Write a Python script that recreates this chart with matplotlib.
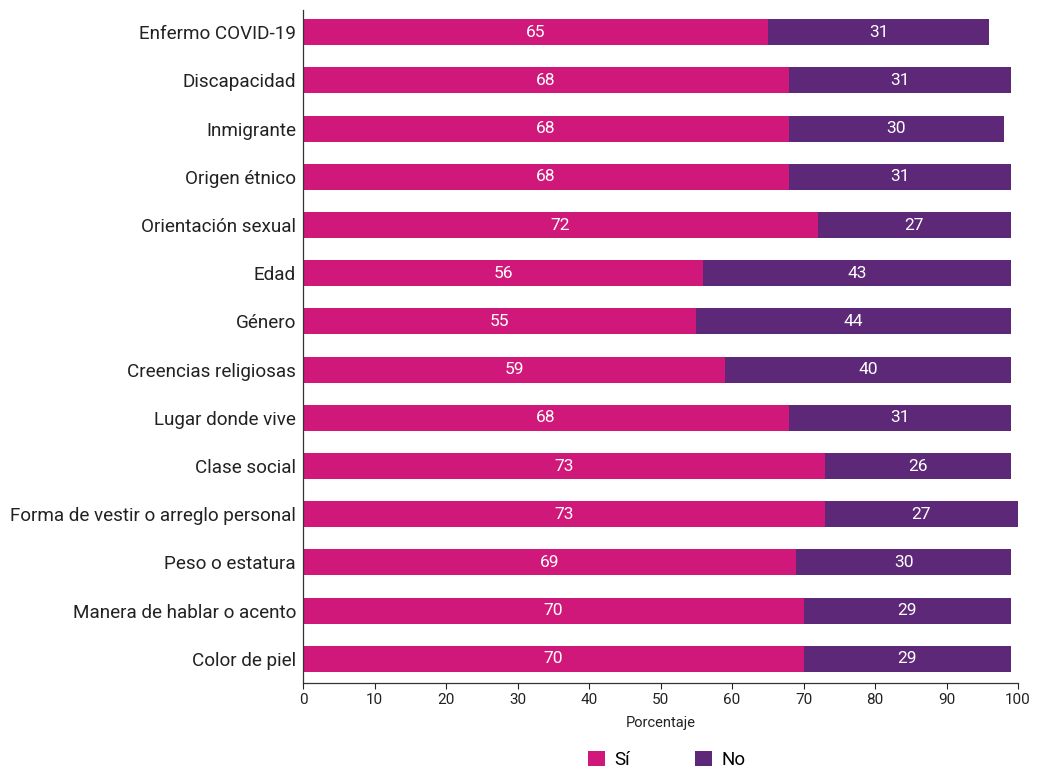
import matplotlib.pyplot as plt
import numpy as np

# datos
categorias = [
    "Enfermo COVID-19",
    "Discapacidad",
    "Inmigrante",
    "Origen étnico",
    "Orientación sexual",
    "Edad",
    "Género",
    "Creencias religiosas",
    "Lugar donde vive",
    "Clase social",
    "Forma de vestir o arreglo personal",
    "Peso o estatura",
    "Manera de hablar o acento",
    "Color de piel",
]
si = [65, 68, 68, 68, 72, 56, 55, 59, 68, 73, 73, 69, 70, 70]
no = [31, 31, 30, 31, 27, 43, 44, 40, 31, 26, 27, 30, 29, 29]

color_si = "#CF1879"
color_no = "#5C2877"

plt.rcParams["font.family"] = ["Roboto", "DejaVu Sans"]

fig = plt.figure(figsize=(10.37, 7.70), dpi=100)
ax = fig.add_axes([0.2922, 0.113, 0.6895, 0.874])

y = np.arange(len(categorias))
b1 = ax.barh(y, si, height=0.54, color=color_si, label="Sí")
b2 = ax.barh(y, no, left=si, height=0.54, color=color_no, label="No")

for bars, vals, lefts in [(b1, si, [0] * len(si)), (b2, no, si)]:
    for bar, v, l in zip(bars, vals, lefts):
        ax.text(l + v / 2, bar.get_y() + bar.get_height() / 2, f"{v}",
                ha="center", va="center", color="white", fontsize=12.5)

ax.set_yticks(y)
ax.set_yticklabels(categorias, fontsize=13.6, color="#222222")
ax.set_ylim(len(categorias) - 0.5, -0.46)
ax.set_xlim(0, 100)
ax.set_xticks(np.arange(0, 101, 10))
ax.tick_params(axis="x", labelsize=11, length=4, colors="#222222")
ax.tick_params(axis="y", length=0, pad=5)
ax.set_xlabel("Porcentaje", fontsize=10.5, color="#222222", labelpad=6)

for s in ["top", "right"]:
    ax.spines[s].set_visible(False)
for s in ["left", "bottom"]:
    ax.spines[s].set_color("#333333")
    ax.spines[s].set_linewidth(0.9)

fig.legend(handles=[b1, b2], labels=["Sí", "No"], loc="center",
           bbox_to_anchor=(0.643, 0.013), ncol=2, frameon=False,
           fontsize=13.5, handlelength=0.9, handleheight=0.9,
           handletextpad=0.5, columnspacing=3.5)

fig.savefig("out.png", dpi=100)
